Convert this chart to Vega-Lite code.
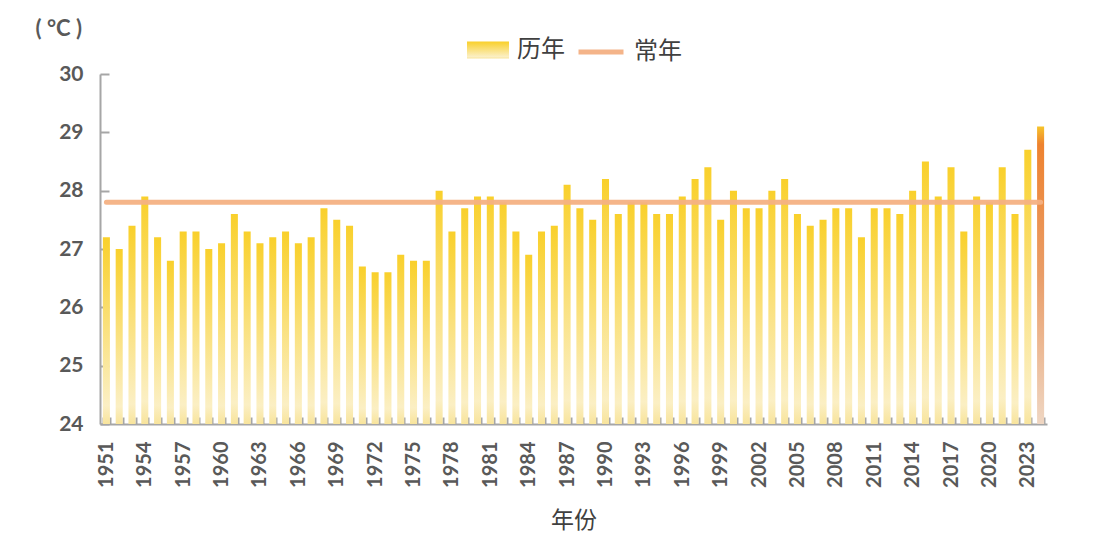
{
  "$schema": "https://vega.github.io/schema/vega-lite/v6.json",
  "width": 947,
  "height": 350,
  "autosize": {"type": "none"},
  "padding": {"left": 100, "top": 74, "right": 47, "bottom": 124},
  "background": "white",
  "config": {"view": {"stroke": null}, "font": "Lato"},
  "data": {
    "values": [
      {"year": 1951, "temp": 27.2, "normal": 27.8},
      {"year": 1952, "temp": 27.0, "normal": 27.8},
      {"year": 1953, "temp": 27.4, "normal": 27.8},
      {"year": 1954, "temp": 27.9, "normal": 27.8},
      {"year": 1955, "temp": 27.2, "normal": 27.8},
      {"year": 1956, "temp": 26.8, "normal": 27.8},
      {"year": 1957, "temp": 27.3, "normal": 27.8},
      {"year": 1958, "temp": 27.3, "normal": 27.8},
      {"year": 1959, "temp": 27.0, "normal": 27.8},
      {"year": 1960, "temp": 27.1, "normal": 27.8},
      {"year": 1961, "temp": 27.6, "normal": 27.8},
      {"year": 1962, "temp": 27.3, "normal": 27.8},
      {"year": 1963, "temp": 27.1, "normal": 27.8},
      {"year": 1964, "temp": 27.2, "normal": 27.8},
      {"year": 1965, "temp": 27.3, "normal": 27.8},
      {"year": 1966, "temp": 27.1, "normal": 27.8},
      {"year": 1967, "temp": 27.2, "normal": 27.8},
      {"year": 1968, "temp": 27.7, "normal": 27.8},
      {"year": 1969, "temp": 27.5, "normal": 27.8},
      {"year": 1970, "temp": 27.4, "normal": 27.8},
      {"year": 1971, "temp": 26.7, "normal": 27.8},
      {"year": 1972, "temp": 26.6, "normal": 27.8},
      {"year": 1973, "temp": 26.6, "normal": 27.8},
      {"year": 1974, "temp": 26.9, "normal": 27.8},
      {"year": 1975, "temp": 26.8, "normal": 27.8},
      {"year": 1976, "temp": 26.8, "normal": 27.8},
      {"year": 1977, "temp": 28.0, "normal": 27.8},
      {"year": 1978, "temp": 27.3, "normal": 27.8},
      {"year": 1979, "temp": 27.7, "normal": 27.8},
      {"year": 1980, "temp": 27.9, "normal": 27.8},
      {"year": 1981, "temp": 27.9, "normal": 27.8},
      {"year": 1982, "temp": 27.8, "normal": 27.8},
      {"year": 1983, "temp": 27.3, "normal": 27.8},
      {"year": 1984, "temp": 26.9, "normal": 27.8},
      {"year": 1985, "temp": 27.3, "normal": 27.8},
      {"year": 1986, "temp": 27.4, "normal": 27.8},
      {"year": 1987, "temp": 28.1, "normal": 27.8},
      {"year": 1988, "temp": 27.7, "normal": 27.8},
      {"year": 1989, "temp": 27.5, "normal": 27.8},
      {"year": 1990, "temp": 28.2, "normal": 27.8},
      {"year": 1991, "temp": 27.6, "normal": 27.8},
      {"year": 1992, "temp": 27.8, "normal": 27.8},
      {"year": 1993, "temp": 27.8, "normal": 27.8},
      {"year": 1994, "temp": 27.6, "normal": 27.8},
      {"year": 1995, "temp": 27.6, "normal": 27.8},
      {"year": 1996, "temp": 27.9, "normal": 27.8},
      {"year": 1997, "temp": 28.2, "normal": 27.8},
      {"year": 1998, "temp": 28.4, "normal": 27.8},
      {"year": 1999, "temp": 27.5, "normal": 27.8},
      {"year": 2000, "temp": 28.0, "normal": 27.8},
      {"year": 2001, "temp": 27.7, "normal": 27.8},
      {"year": 2002, "temp": 27.7, "normal": 27.8},
      {"year": 2003, "temp": 28.0, "normal": 27.8},
      {"year": 2004, "temp": 28.2, "normal": 27.8},
      {"year": 2005, "temp": 27.6, "normal": 27.8},
      {"year": 2006, "temp": 27.4, "normal": 27.8},
      {"year": 2007, "temp": 27.5, "normal": 27.8},
      {"year": 2008, "temp": 27.7, "normal": 27.8},
      {"year": 2009, "temp": 27.7, "normal": 27.8},
      {"year": 2010, "temp": 27.2, "normal": 27.8},
      {"year": 2011, "temp": 27.7, "normal": 27.8},
      {"year": 2012, "temp": 27.7, "normal": 27.8},
      {"year": 2013, "temp": 27.6, "normal": 27.8},
      {"year": 2014, "temp": 28.0, "normal": 27.8},
      {"year": 2015, "temp": 28.5, "normal": 27.8},
      {"year": 2016, "temp": 27.9, "normal": 27.8},
      {"year": 2017, "temp": 28.4, "normal": 27.8},
      {"year": 2018, "temp": 27.3, "normal": 27.8},
      {"year": 2019, "temp": 27.9, "normal": 27.8},
      {"year": 2020, "temp": 27.8, "normal": 27.8},
      {"year": 2021, "temp": 28.4, "normal": 27.8},
      {"year": 2022, "temp": 27.6, "normal": 27.8},
      {"year": 2023, "temp": 28.7, "normal": 27.8},
      {"year": 2024, "temp": 29.1, "normal": 27.8}
    ]
  },
  "encoding": {
    "x": {
      "field": "year",
      "type": "ordinal",
      "scale": {"paddingInner": 0.45, "paddingOuter": 0.225},
      "axis": {
        "title": "年份",
        "titleFont": "Noto Sans CJK SC",
        "titleFontSize": 23,
        "titleFontWeight": "normal",
        "titleColor": "#404040",
        "titleY": 96,
        "titleBaseline": "middle",
        "labelExpr": "(datum.value - 1951) % 3 === 0 ? datum.label : ''",
        "labelAngle": -90,
        "labelFontSize": 20,
        "labelFontWeight": "bold",
        "labelColor": "#595959",
        "labelPadding": 24,
        "labelOverlap": false,
        "domainColor": "#A6A6A6",
        "domainWidth": 2,
        "tickColor": "#A6A6A6",
        "tickWidth": 2,
        "tickSize": -7,
        "tickBand": "extent",
        "grid": false
      }
    }
  },
  "layer": [
    {
      "transform": [{"filter": "datum.year < 2024"}],
      "mark": {
        "type": "bar",
        "strokeWidth": 0,
        "fill": {
          "gradient": "linear",
          "x1": 0, "y1": 0, "x2": 0, "y2": 1,
          "stops": [
            {"offset": 0, "color": "#F9D02B"},
            {"offset": 0.9, "color": "#FBEFC4"},
            {"offset": 1, "color": "#F8E49C"}
          ]
        }
      },
      "encoding": {
        "y": {
          "field": "temp",
          "type": "quantitative",
          "scale": {"domain": [24, 30], "zero": false, "nice": false},
          "axis": {
            "values": [24, 25, 26, 27, 28, 29, 30],
            "format": "d",
            "title": "(\u00a0°C\u00a0)",
            "titleAngle": 0,
            "titleX": -65,
            "titleY": -46,
            "titleAlign": "left",
            "titleBaseline": "middle",
            "titleFont": "Lato",
            "titleFontSize": 22,
            "titleFontWeight": "bold",
            "titleColor": "#595959",
            "labelFontSize": 21,
            "labelFontWeight": "bold",
            "labelColor": "#595959",
            "labelPadding": 26,
            "domainColor": "#A6A6A6",
            "domainWidth": 2,
            "tickColor": "#A6A6A6",
            "tickWidth": 2,
            "tickSize": -9,
            "grid": false
          }
        },
        "y2": {"datum": 24},
        "stroke": {
          "datum": "历年",
          "type": "nominal",
          "scale": {"domain": ["历年"], "range": ["#F9D02B"]},
          "legend": {
            "orient": "none",
            "legendX": 367,
            "legendY": -45,
            "title": null,
            "symbolType": "M-1,-0.4H1V0.4H-1Z",
            "symbolSize": 1764,
            "symbolStrokeWidth": 0,
            "labelFont": "Noto Sans CJK SC",
            "labelFontSize": 24,
            "labelColor": "#404040",
            "labelOffset": 8
          }
        }
      }
    },
    {
      "transform": [{"filter": "datum.year == 2024"}],
      "mark": {
        "type": "bar",
        "strokeWidth": 0,
        "fill": {
          "gradient": "linear",
          "x1": 0, "y1": 0, "x2": 0, "y2": 1,
          "stops": [
            {"offset": 0, "color": "#F6C42A"},
            {"offset": 0.03, "color": "#F2A22C"},
            {"offset": 0.06, "color": "#EE822F"},
            {"offset": 0.5, "color": "#E99D68"},
            {"offset": 1, "color": "#EFD6C2"}
          ]
        }
      },
      "encoding": {
        "y": {"field": "temp", "type": "quantitative"},
        "y2": {"datum": 24}
      }
    },
    {
      "mark": {"type": "line", "strokeWidth": 5, "strokeCap": "round", "color": "#F4B183", "opacity": 0.95},
      "encoding": {
        "y": {"field": "normal", "type": "quantitative"},
        "strokeDash": {
          "datum": "常年",
          "type": "nominal",
          "scale": {"domain": ["常年"], "range": [[1, 0]]},
          "legend": {
            "orient": "none",
            "legendX": 476,
            "legendY": -47,
            "title": null,
            "symbolType": "stroke",
            "symbolSize": 2025,
            "symbolStrokeWidth": 5,
            "symbolStrokeColor": "#F4B183",
            "labelFont": "Noto Sans CJK SC",
            "labelFontSize": 24,
            "labelColor": "#404040",
            "labelOffset": 8
          }
        }
      }
    }
  ]
}
